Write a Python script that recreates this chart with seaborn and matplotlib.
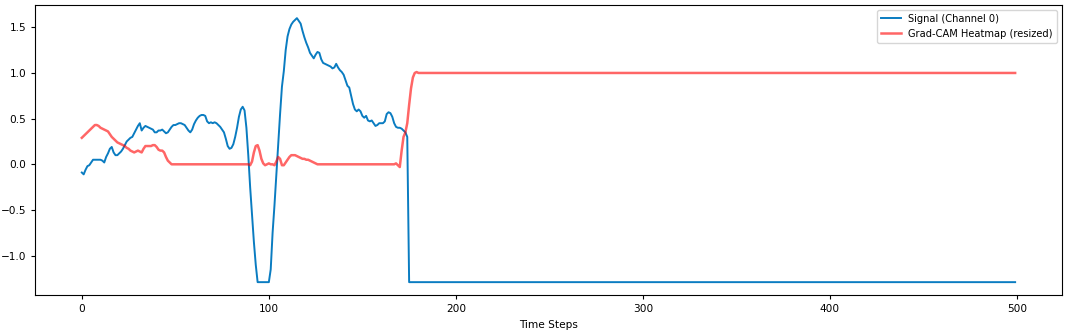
import numpy as np
import pandas as pd
import matplotlib
matplotlib.use("Agg")
import matplotlib.pyplot as plt
import seaborn as sns

# signal values for steps 0..174, after that it sits flat at the minimum
signal_head = [
    -0.09, -0.11, -0.06, -0.02, -0.01, 0.02, 0.05, 0.05, 0.05, 0.05,
    0.05, 0.04, 0.02, 0.08, 0.12, 0.17, 0.19, 0.13, 0.10, 0.10,
    0.12, 0.14, 0.17, 0.21, 0.25, 0.27, 0.29, 0.30, 0.34, 0.38,
    0.42, 0.45, 0.37, 0.40, 0.42, 0.41, 0.40, 0.39, 0.38, 0.35,
    0.35, 0.37, 0.37, 0.38, 0.36, 0.34, 0.35, 0.38, 0.41, 0.43,
    0.43, 0.44, 0.45, 0.45, 0.44, 0.43, 0.40, 0.37, 0.35, 0.38,
    0.44, 0.48, 0.51, 0.53, 0.54, 0.54, 0.53, 0.47, 0.45, 0.46,
    0.45, 0.46, 0.45, 0.43, 0.41, 0.38, 0.35, 0.28, 0.20, 0.17,
    0.18, 0.22, 0.30, 0.40, 0.52, 0.60, 0.63, 0.59, 0.40, 0.10,
    -0.25, -0.55, -0.85, -1.10, -1.29, -1.29, -1.29, -1.29, -1.29, -1.29,
    -1.29, -1.15, -0.75, -0.45, -0.12, 0.20, 0.55, 0.85, 1.02, 1.25,
    1.40, 1.48, 1.53, 1.56, 1.58, 1.60, 1.57, 1.54, 1.46, 1.39,
    1.33, 1.28, 1.22, 1.19, 1.16, 1.20, 1.23, 1.22, 1.15, 1.11,
    1.10, 1.09, 1.08, 1.07, 1.05, 1.06, 1.10, 1.06, 1.03, 1.01,
    0.98, 0.92, 0.86, 0.84, 0.75, 0.66, 0.60, 0.58, 0.60, 0.58,
    0.53, 0.51, 0.53, 0.48, 0.47, 0.48, 0.45, 0.42, 0.43, 0.45,
    0.45, 0.45, 0.47, 0.55, 0.57, 0.56, 0.52, 0.45, 0.41, 0.40,
    0.40, 0.39, 0.37, 0.35, 0.30,
]
signal_tail = -1.29

# grad-cam heatmap for steps 0..180, flat at 1.0 afterwards
heat_head = [
    0.29, 0.31, 0.33, 0.35, 0.37, 0.39, 0.41, 0.43, 0.43, 0.42,
    0.40, 0.39, 0.38, 0.37, 0.36, 0.33, 0.30, 0.28, 0.26, 0.24,
    0.23, 0.22, 0.21, 0.20, 0.18, 0.17, 0.15, 0.14, 0.13, 0.14,
    0.15, 0.14, 0.13, 0.17, 0.20, 0.20, 0.20, 0.20, 0.21, 0.21,
    0.19, 0.16, 0.15, 0.15, 0.13, 0.08, 0.04, 0.02, 0.00, 0.00,
    0.00, 0.00, 0.00, 0.00, 0.00, 0.00, 0.00, 0.00, 0.00, 0.00,
    0.00, 0.00, 0.00, 0.00, 0.00, 0.00, 0.00, 0.00, 0.00, 0.00,
    0.00, 0.00, 0.00, 0.00, 0.00, 0.00, 0.00, 0.00, 0.00, 0.00,
    0.00, 0.00, 0.00, 0.00, 0.00, 0.00, 0.00, 0.00, 0.00, 0.00,
    -0.01, 0.03, 0.13, 0.20, 0.21, 0.15, 0.06, 0.01, -0.01, 0.00,
    0.01, 0.00, 0.00, -0.01, 0.03, 0.08, 0.06, -0.01, -0.01, 0.02,
    0.05, 0.08, 0.10, 0.10, 0.10, 0.09, 0.08, 0.07, 0.06, 0.06,
    0.05, 0.05, 0.04, 0.03, 0.02, 0.01, 0.00, 0.00, 0.00, 0.00,
    0.00, 0.00, 0.00, 0.00, 0.00, 0.00, 0.00, 0.00, 0.00, 0.00,
    0.00, 0.00, 0.00, 0.00, 0.00, 0.00, 0.00, 0.00, 0.00, 0.00,
    0.00, 0.00, 0.00, 0.00, 0.00, 0.00, 0.00, 0.00, 0.00, 0.00,
    0.00, 0.00, 0.00, 0.00, 0.00, 0.00, 0.00, 0.00, 0.01, -0.01,
    -0.03, 0.15, 0.30, 0.35, 0.45, 0.65, 0.83, 0.95, 1.00, 1.01,
    1.00,
]
heat_tail = 1.00

n_steps = 500
signal = signal_head + [signal_tail] * (n_steps - len(signal_head))
heat = heat_head + [heat_tail] * (n_steps - len(heat_head))

df = pd.DataFrame({"step": np.arange(n_steps), "signal": signal, "heat": heat})

# the reference looks like a bigger figure shrunk down, so scale text/ticks
plt.rcParams["font.size"] = 7.6
plt.rcParams["xtick.major.size"] = 2.8
plt.rcParams["ytick.major.size"] = 2.8
plt.rcParams["axes.linewidth"] = 0.8

fig = plt.figure(figsize=(10.65, 3.3), dpi=100)
ax = fig.add_axes([0.033, 0.105, 0.964, 0.880])

sns.lineplot(data=df, x="step", y="signal", ax=ax, color="#0a7cc1",
             linewidth=1.4, label="Signal (Channel 0)")
sns.lineplot(data=df, x="step", y="heat", ax=ax, color="red", alpha=0.6,
             linewidth=1.8, label="Grad-CAM Heatmap (resized)")

ax.set_xlabel("Time Steps")
ax.set_ylabel("")
ax.legend(loc="upper right", fontsize=7.1)

fig.savefig("out.png", dpi=100)
